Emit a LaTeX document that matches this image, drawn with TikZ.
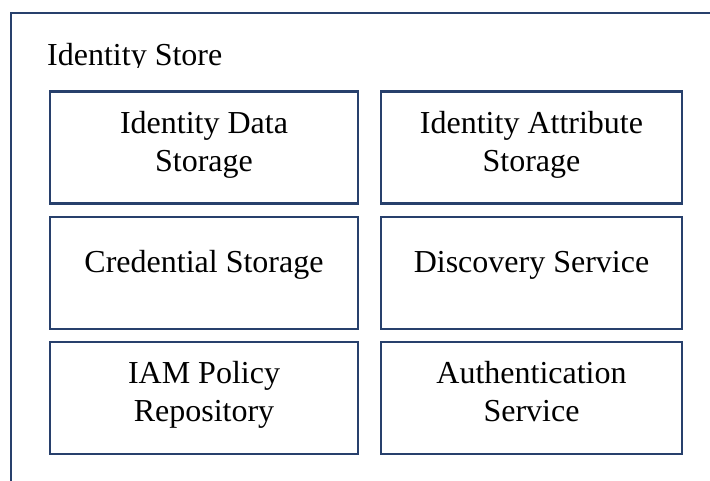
\documentclass[tikz,border=0pt]{standalone}
\usepackage{fontspec}
\setmainfont{Liberation Serif}
\definecolor{navy}{RGB}{40,64,108}
\begin{document}
\begin{tikzpicture}[x=1pt,y=-1pt,
  frame/.style={draw=navy, line width=2.5pt},
  cell/.style={draw=navy, line width=2.5pt, minimum width=308pt,
    minimum height=112pt, inner sep=0pt, outer sep=0pt},
  cellR/.style={cell, minimum width=301pt},
  lbl/.style={anchor=base, inner sep=0pt, font=\fontsize{32}{38}\selectfont}]
\useasboundingbox (0,0) rectangle (710,480);
\clip (0,0) rectangle (710,480);
\fill[white] (0,0) rectangle (710,480);
% outer container, running past the right and bottom edges
\draw[frame] (11,13) rectangle (740,510);
% container title, cut just below its baseline
\begin{scope}
  \clip (0,0) rectangle (710,67);
  \node[lbl, anchor=base west] (title) at (47,65) {Identity Store};
\end{scope}
% component boxes
\node[cell]  (ids)  at (204,147.5) {};
\node[cellR] (ias)  at (531.5,147.5) {};
\node[cell]  (cs)   at (204,273) {};
\node[cellR] (disc) at (531.5,273) {};
\node[cell]  (iam)  at (204,398) {};
\node[cellR] (auth) at (531.5,398) {};
% box captions
\node[lbl] (idsA)  at (204,133) {Identity Data};
\node[lbl] (idsB)  at (204,171) {Storage};
\node[lbl] (iasA)  at (531.5,133) {Identity Attribute};
\node[lbl] (iasB)  at (531.5,171) {Storage};
\node[lbl] (csA)   at (204,272) {Credential Storage};
\node[lbl] (discA) at (531.5,272) {Discovery Service};
\node[lbl] (iamA)  at (204,383) {IAM Policy};
\node[lbl] (iamB)  at (204,421) {Repository};
\node[lbl] (authA) at (531.5,383) {Authentication};
\node[lbl] (authB) at (531.5,421) {Service};
\end{tikzpicture}
\end{document}
